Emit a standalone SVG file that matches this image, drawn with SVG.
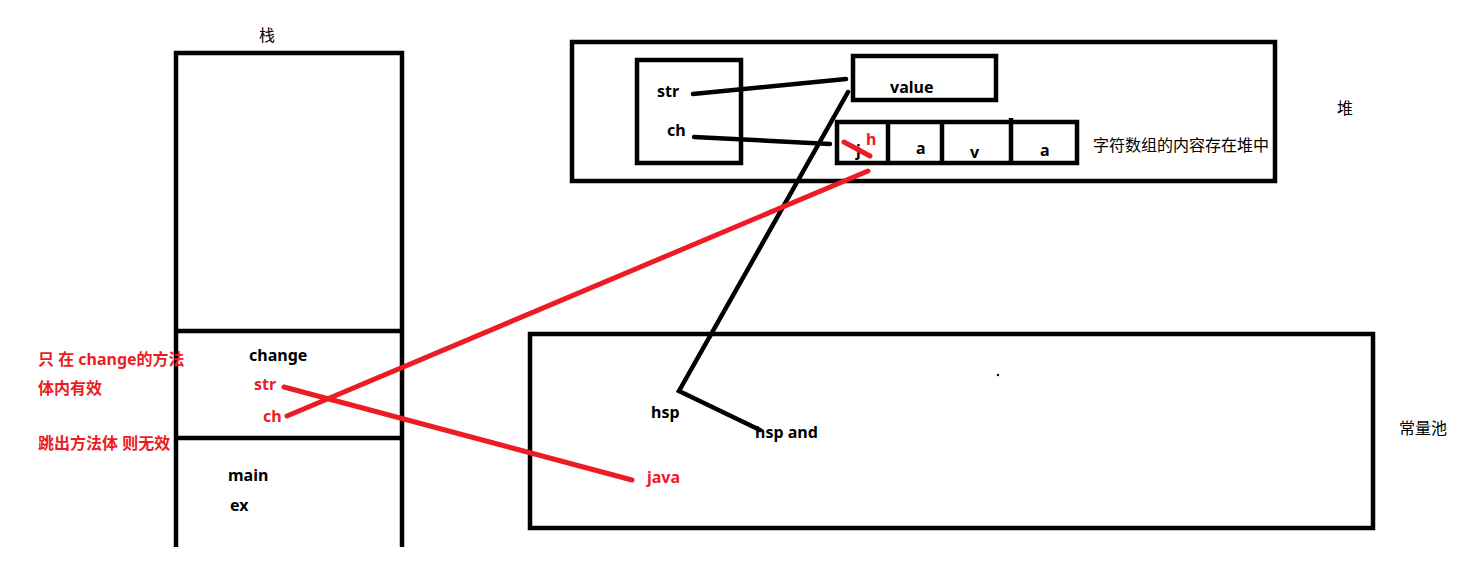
<svg xmlns="http://www.w3.org/2000/svg" width="1483" height="571" viewBox="0 0 1483 571">
<style>
.box{fill:none;stroke:#000;stroke-width:4.5}
.bl{stroke:#000;stroke-width:4.5;stroke-linecap:round;fill:none}
.rd{stroke:#ed1c24;stroke-width:5;stroke-linecap:round;fill:none}
.t{font-family:"Noto Sans","Noto Sans CJK SC",sans-serif;font-size:16px;font-weight:bold;fill:#000}
.r{fill:#ed1c24}
.c{font-family:"Noto Sans CJK SC",sans-serif;font-size:16px;font-weight:normal;fill:#000}
</style>
<rect width="1483" height="571" fill="#fff"/>
<g id="stack">
<path class="box" d="M176,547 V53 H402 V547"/>
<line class="box" x1="176" y1="331" x2="402" y2="331"/>
<line class="box" x1="176" y1="438" x2="402" y2="438"/>
<text class="c" x="259" y="41" font-weight="bold">栈</text>
<text class="t" x="249" y="361">change</text>
<text class="t r" x="254" y="390">str</text>
<text class="t r" x="263" y="422">ch</text>
<text class="t" x="228" y="481">main</text>
<text class="t" x="230" y="511">ex</text>
</g>
<g id="notes">
<text class="t r" x="38" y="365">只 在 change的方法</text>
<text class="t r" x="38" y="394">体内有效</text>
<text class="t r" x="38" y="449">跳出方法体 则无效</text>
</g>
<g id="heap">
<rect class="box" x="572" y="42" width="703" height="139"/>
<text class="c" x="1337" y="114">堆</text>
</g>
<g id="frame">
<rect class="box" x="637" y="60" width="104" height="103"/>
<text class="t" x="657" y="97">str</text>
<text class="t" x="667" y="136">ch</text>
</g>
<g id="value">
<rect class="box" x="853" y="56" width="143" height="44"/>
<text class="t" x="890" y="93">value</text>
</g>
<g id="array">
<rect class="box" x="837" y="122" width="240" height="41"/>
<line class="box" x1="888" y1="122" x2="888" y2="163"/>
<line class="box" x1="942" y1="122" x2="942" y2="163"/>
<line class="box" x1="1011" y1="118" x2="1011" y2="163"/>
<text class="t" x="856" y="156">j</text>
<text class="t r" x="866" y="145">h</text>
<text class="t" x="916" y="154">a</text>
<text class="t" x="970" y="158">v</text>
<text class="t" x="1040" y="156">a</text>
<text class="c" x="1093" y="151">字符数组的内容存在堆中</text>
</g>
<g id="pool">
<rect class="box" x="530" y="334" width="843" height="194"/>
<circle cx="998" cy="375" r="1.2" fill="#000"/>
<text class="t" x="651" y="418">hsp</text>
<text class="t" x="755" y="438">hsp and</text>
<text class="t r" x="647" y="483">java</text>
<text class="c" x="1399" y="434">常量池</text>
</g>
<g id="connectors">
<line class="bl" x1="693" y1="94" x2="846" y2="79"/>
<line class="bl" x1="694" y1="137" x2="830" y2="144"/>
<polyline class="bl" points="848,92 679,391 760,430"/>
<line class="rd" x1="287" y1="416" x2="868" y2="171"/>
<line class="rd" x1="284" y1="387" x2="632" y2="480"/>
<line class="rd" x1="844" y1="142" x2="870" y2="156"/>
</g>
</svg>
